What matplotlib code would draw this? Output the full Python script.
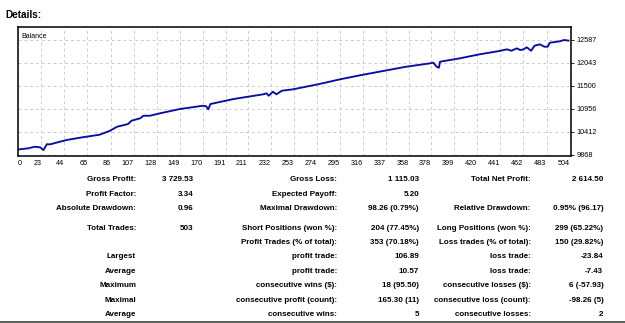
import matplotlib
matplotlib.use("Agg")
import matplotlib.pyplot as plt

plt.rcParams['font.family'] = ['Liberation Sans', 'DejaVu Sans']

# balance curve (trade number, balance)
trades = [0, 11, 17, 22, 25, 28, 31, 40, 46, 58, 64, 76, 85, 92, 102, 105,
          113, 116, 122, 131, 149, 170, 173, 175, 177, 198, 225, 228, 230,
          234, 237, 242, 252, 276, 295, 313, 334, 355, 377, 380, 383, 385,
          386, 404, 422, 440, 447, 451, 456, 459, 462, 465, 469, 472, 477,
          481, 484, 486, 495, 499, 503]
balance = [10000, 10033, 10071, 10057, 9993, 10130, 10128, 10190, 10230,
           10284, 10308, 10355, 10442, 10544, 10608, 10686, 10743, 10804,
           10804, 10861, 10962, 11040, 11030, 10955, 11081, 11199, 11310,
           11334, 11277, 11371, 11310, 11395, 11428, 11553, 11665, 11759,
           11861, 11962, 12043, 12057, 11962, 11939, 12081, 12161, 12256,
           12334, 12374, 12341, 12398, 12357, 12374, 12421, 12341, 12459,
           12492, 12436, 12436, 12530, 12563, 12595, 12580]

x_ticks = [23, 44, 65, 86, 107, 128, 149, 170, 191, 211, 232, 253, 274, 295,
           316, 337, 358, 378, 399, 420, 441, 462, 483, 504]
y_ticks = [9868, 10412, 10956, 11500, 12043, 12587]

# report table
row_y = [179.3, 194.3, 208.3, 228.3, 242.7, 257, 271.7, 285.7, 300, 314.3]
col1_labels = ["Gross Profit:", "Profit Factor:", "Absolute Drawdown:", "Total Trades:",
               "", "Largest", "Average", "Maximum", "Maximal", "Average"]
col1_values = ["3 729.53", "3.34", "0.96", "503", "", "", "", "", "", ""]
col2_labels = ["Gross Loss:", "Expected Payoff:", "Maximal Drawdown:",
               "Short Positions (won %):", "Profit Trades (% of total):",
               "profit trade:", "profit trade:", "consecutive wins ($):",
               "consecutive profit (count):", "consecutive wins:"]
col2_values = ["1 115.03", "5.20", "98.26 (0.79%)", "204 (77.45%)", "353 (70.18%)",
               "106.89", "10.57", "18 (95.50)", "165.30 (11)", "5"]
col3_labels = ["Total Net Profit:", "", "Relative Drawdown:", "Long Positions (won %):",
               "Loss trades (% of total):", "loss trade:", "loss trade:",
               "consecutive losses ($):", "consecutive loss (count):", "consecutive losses:"]
col3_values = ["2 614.50", "", "0.95% (96.17)", "299 (65.22%)", "150 (29.82%)",
               "-23.84", "-7.43", "6 (-57.93)", "-98.26 (5)", "2"]

W, H = 625, 323
fig = plt.figure(figsize=(W / 100, H / 100), dpi=100)
fig.patch.set_facecolor("white")

def px(x, y):
    return x / W, 1 - y / H

ax = fig.add_axes([17.7 / W, 1 - 156 / H, (570.7 - 17.7) / W, (156 - 27) / H])
ax.plot(trades, balance, color="#0b0ba6", lw=1.35, solid_joinstyle="round")
ax.set_xlim(1.5, 505)
ax.set_ylim(9852, 12902)

ax.set_xticks([1.5] + x_ticks)
ax.set_xticklabels(["0"] + [str(t) for t in x_ticks])
for i, lab in enumerate(ax.get_xticklabels()):
    lab.set_horizontalalignment("left" if i == 0 else "right")
ax.set_yticks(y_ticks)
ax.set_yticklabels([str(v) for v in y_ticks])
ax.yaxis.tick_right()
ax.tick_params(axis="both", labelsize=5.2, length=2, width=0.6, pad=2, colors="black")
ax.tick_params(axis="x", length=0, pad=3)
for lab in ax.get_yticklabels():
    lab.set_verticalalignment("center")

ax.grid(True, color="#cccccc", linestyle=(0, (3, 3)), linewidth=0.7)
for s in ax.spines.values():
    s.set_linewidth(1.1)
    s.set_color("black")

ax.text(0.006, 0.95, "Balance", fontsize=5, va="top", transform=ax.transAxes)

fig.text(*px(5, 15), "Details:", fontsize=7.2, fontweight="bold", va="center", ha="left")

fs = 5.8
for i, y in enumerate(row_y):
    fig.text(*px(136, y), col1_labels[i], fontsize=fs, fontweight="bold", ha="right", va="center")
    fig.text(*px(193.3, y), col1_values[i], fontsize=fs, fontweight="bold", ha="right", va="center")
    fig.text(*px(337.3, y), col2_labels[i], fontsize=fs, fontweight="bold", ha="right", va="center")
    fig.text(*px(419, y), col2_values[i], fontsize=fs, fontweight="bold", ha="right", va="center")
    fig.text(*px(530.7, y), col3_labels[i], fontsize=fs, fontweight="bold", ha="right", va="center")
    fig.text(*px(603.3, y), col3_values[i], fontsize=fs, fontweight="bold", ha="right", va="center")

# dark rule along the bottom edge
fig.add_artist(plt.Line2D([0, 1], [1 - 322 / H, 1 - 322 / H], color="#3c443c", lw=1.2,
                          transform=fig.transFigure))

fig.savefig("out.png", dpi=100)
